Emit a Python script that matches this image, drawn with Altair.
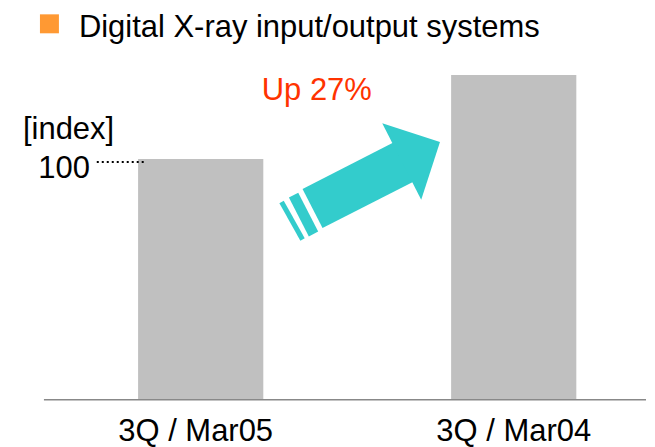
import altair as alt
import pandas as pd

# ---- data ----
categories = ["3Q / Mar05", "3Q / Mar04"]
index_values = [100, 135]
positions = [1, 2]

title_text = "Digital X-ray input/output systems"
unit_label = "[index]"
ref_label = "100"
change_label = "Up 27%"

FONT = "Liberation Sans"
GRAY = "#C0C0C0"
TEAL = "#33CCCC"
RED = "#FF3300"
ORANGE = "#FF9933"

bars_df = pd.DataFrame({"category": categories, "value": index_values, "pos": positions})
bars_df["x0"] = bars_df["pos"] - 0.2
bars_df["x1"] = bars_df["pos"] + 0.2
bars_df["base"] = 0
bars_df["lab_x"] = bars_df["pos"] + pd.Series([-0.016, 0.0])
bars_df["lab_y"] = -17.0

xs = alt.Scale(domain=[0.3844, 2.4226], nice=False, zero=False)
ys = alt.Scale(domain=[-11.62, 162.66], nice=False, zero=False)


def X(f):
    return alt.X(f + ":Q", scale=xs, axis=None)


def Y(f):
    return alt.Y(f + ":Q", scale=ys, axis=None)


def seg(x, x2, y, y2):
    return alt.Chart(pd.DataFrame({"x": [x], "x2": [x2], "y": [y], "y2": [y2]}))


def pt(x, y):
    return alt.Chart(pd.DataFrame({"x": [x], "y": [y]}))


bars = alt.Chart(bars_df).mark_bar(color=GRAY).encode(
    x=X("x0"), x2="x1:Q", y=Y("value"), y2="base:Q"
)

cat_labels = alt.Chart(bars_df).mark_text(
    font=FONT, fontSize=31, align="center", baseline="alphabetic", color="black"
).encode(x=X("lab_x"), y=Y("lab_y"), text="category:N")

axis_line = seg(0.4992, 2.4226, 0, 0).mark_rule(color="#888888", strokeWidth=1.5).encode(
    x=X("x"), x2="x2:Q", y=Y("y")
)

dotted = seg(0.668, 0.8246, 98.8, 98.8).mark_rule(color="black", strokeWidth=2, strokeDash=[2, 3]).encode(
    x=X("x"), x2="x2:Q", y=Y("y")
)

hundred = pt(0.6459, 92.1).mark_text(font=FONT, fontSize=31, align="right", baseline="alphabetic",
                                     text=ref_label, color="black").encode(x=X("x"), y=Y("y"))

index_lbl = pt(0.4322, 108.3).mark_text(font=FONT, fontSize=31, align="left", baseline="alphabetic",
                                        text=unit_label, color="black").encode(x=X("x"), y=Y("y"))

up_lbl = pt(1.195, 124.5).mark_text(font=FONT, fontSize=31, align="left", baseline="alphabetic",
                                    text=change_label, color=RED).encode(x=X("x"), y=Y("y"))

shaft = seg(1.3573, 1.6507, 79.46, 98.96).mark_rule(color=TEAL, strokeWidth=44, strokeCap="butt").encode(
    x=X("x"), x2="x2:Q", y=Y("y"), y2="y2:Q"
)
stripe1 = seg(1.2967, 1.3604, 85.06, 68.88).mark_rule(color=TEAL, strokeWidth=10.5, strokeCap="butt").encode(
    x=X("x"), x2="x2:Q", y=Y("y"), y2="y2:Q"
)
stripe2 = seg(1.2584, 1.3254, 82.16, 66.6).mark_rule(color=TEAL, strokeWidth=5, strokeCap="butt").encode(
    x=X("x"), x2="x2:Q", y=Y("y"), y2="y2:Q"
)
head = pt(1.7033, 103.1).mark_point(
    shape="M -0.5 -1 L 0.5 0 L -0.5 1 Z", filled=True, color=TEAL, opacity=1,
    size=7396, angle=333, strokeWidth=0,
).encode(x=X("x"), y=Y("y"))

bullet = pt(0, 0).mark_rect(color=ORANGE).encode(
    x=alt.value(32), x2=alt.value(51), y=alt.value(6), y2=alt.value(25)
)
title = pt(0, 0).mark_text(font=FONT, fontSize=31, align="left", baseline="alphabetic",
                           text=title_text, color="black").encode(x=alt.value(71), y=alt.value(28.5))

chart = alt.layer(
    bars, axis_line, dotted, cat_labels, hundred, index_lbl, up_lbl,
    shaft, stripe1, stripe2, head, bullet, title,
).properties(width=639, height=420, padding=0).configure_view(stroke=None)

chart.save("out.html", embed_options={"renderer": "svg", "actions": False})
